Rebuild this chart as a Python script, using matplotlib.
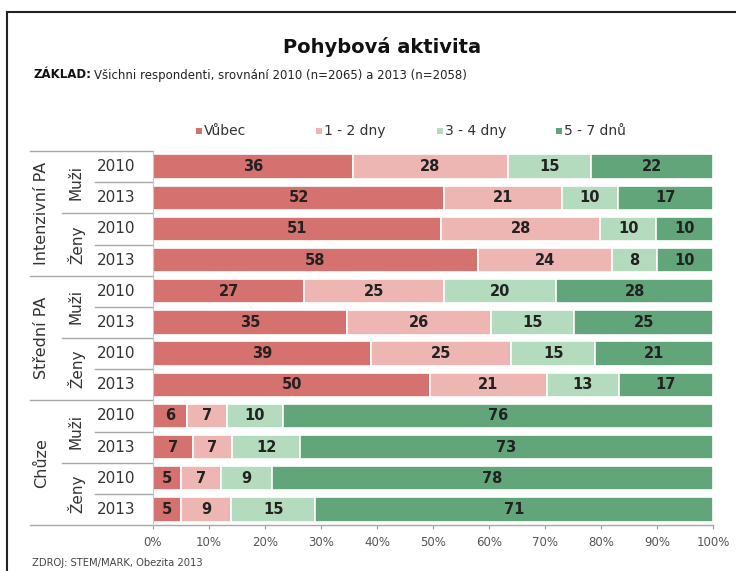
import numpy as np
import matplotlib.pyplot as plt
import matplotlib.transforms as mtransforms
from matplotlib.patches import Rectangle

# Survey data (percent of respondents)
groups = ["Intenzivní PA", "Střední PA", "Chůze"]
genders = ["Muži", "Ženy"]
years = ["2010", "2013"]
categories = ["Vůbec", "1 - 2 dny", "3 - 4 dny", "5 - 7 dnů"]
vubec = [36, 52, 51, 58, 27, 35, 39, 50, 6, 7, 5, 5]
dny_1_2 = [28, 21, 28, 24, 25, 26, 25, 21, 7, 7, 7, 9]
dny_3_4 = [15, 10, 10, 8, 20, 15, 15, 13, 10, 12, 9, 15]
dny_5_7 = [22, 17, 10, 10, 28, 25, 21, 17, 76, 73, 78, 71]

colors = ["#d5726f", "#eeb6b3", "#b4dbbd", "#62a57a"]

W, H = 736, 571
fig = plt.figure(figsize=(W / 100, H / 100), dpi=100)

def fx(px):
    return px / W

def fy(py):
    return 1 - py / H

ax = fig.add_axes([fx(153), fy(525), fx(713) - fx(153), fy(151) - fy(525)])

data = np.array([vubec, dny_1_2, dny_3_4, dny_5_7], dtype=float)
totals = data.sum(axis=0)
shares = data / totals * 100
n = data.shape[1]
y = np.arange(n)

left = np.zeros(n)
for k in range(4):
    ax.barh(y, shares[k], left=left, height=0.78, color=colors[k],
            edgecolor="white", linewidth=1.2)
    for i in range(n):
        ax.text(left[i] + shares[k][i] / 2, y[i], str(int(data[k][i])),
                ha="center", va="center", fontsize=10.5, fontweight="bold",
                color="#222222")
    left += shares[k]

ax.set_xlim(0, 100)
ax.set_ylim(n - 0.5, -0.5)
ax.set_xticks(np.arange(0, 101, 10))
ax.set_xticklabels([f"{v}%" for v in range(0, 101, 10)], fontsize=8.5, color="#555555")
ax.set_yticks([])
ax.tick_params(axis="x", length=3, color="#999999", pad=5)
for s in ["top", "right", "bottom"]:
    ax.spines[s].set_visible(False)
ax.spines["left"].set_color("#c8c8c8")

# Row header table on the left
tr = mtransforms.blended_transform_factory(fig.transFigure, ax.transData)
line_kw = dict(color="#a8a8a8", linewidth=1, transform=tr, clip_on=False)

ax.plot([fx(30), fx(153)], [-0.5, -0.5], **line_kw)
ax.plot([fx(30), fx(713)], [n - 0.5, n - 0.5], **line_kw)
for i in range(1, n):
    if i % 4 == 0:
        x0 = 30
    elif i % 2 == 0:
        x0 = 62
    else:
        x0 = 95
    ax.plot([fx(x0), fx(153)], [i - 0.5, i - 0.5], **line_kw)

for i in range(n):
    ax.text(fx(116), i, years[i % 2], transform=tr, ha="center", va="center",
            fontsize=11, color="#333333")
for j in range(n // 2):
    ax.text(fx(76), 2 * j + 0.5, genders[j % 2], transform=tr, ha="center",
            va="center", rotation=90, fontsize=11, color="#333333")
for g in range(len(groups)):
    ax.text(fx(42), 4 * g + 1.5, groups[g], transform=tr, ha="center",
            va="center", rotation=90, fontsize=11.5, color="#333333")

# Titles
fig.text(fx(382), fy(47), "Pohybová aktivita", ha="center", va="center",
         fontsize=14, fontweight="bold", color="#111111")
t = fig.text(fx(33), fy(75), "ZÁKLAD:", ha="left", va="center",
             fontsize=8.5, fontweight="bold", color="#111111")
fig.canvas.draw()
bb = t.get_window_extent()
fig.text(bb.x1 / W + fx(3), fy(75), "Všichni respondenti, srovnání 2010 (n=2065) a 2013 (n=2058)",
         ha="left", va="center", fontsize=8.5, color="#222222")

# Legend: small square followed by the label
legend_x = [196, 316, 437, 556]
sq = 6
for c, lab, lx in zip(colors, categories, legend_x):
    fig.add_artist(Rectangle((fx(lx), fy(131 + sq / 2)), sq / W, sq / H,
                             transform=fig.transFigure, facecolor=c, edgecolor="none"))
    fig.text(fx(lx + sq + 2), fy(131), lab, ha="left", va="center", fontsize=10,
             color="#333333")

fig.text(fx(32), fy(563), "ZDROJ: STEM/MARK, Obezita 2013", ha="left", va="center",
         fontsize=7.2, color="#444444")

# Frame around the chart
fig.add_artist(plt.Line2D([fx(7), 1], [fy(12), fy(12)], color="#222222", linewidth=1.5))
fig.add_artist(plt.Line2D([fx(7), fx(7)], [fy(12), 0], color="#222222", linewidth=1.5))

fig.savefig("out.png", dpi=100)
